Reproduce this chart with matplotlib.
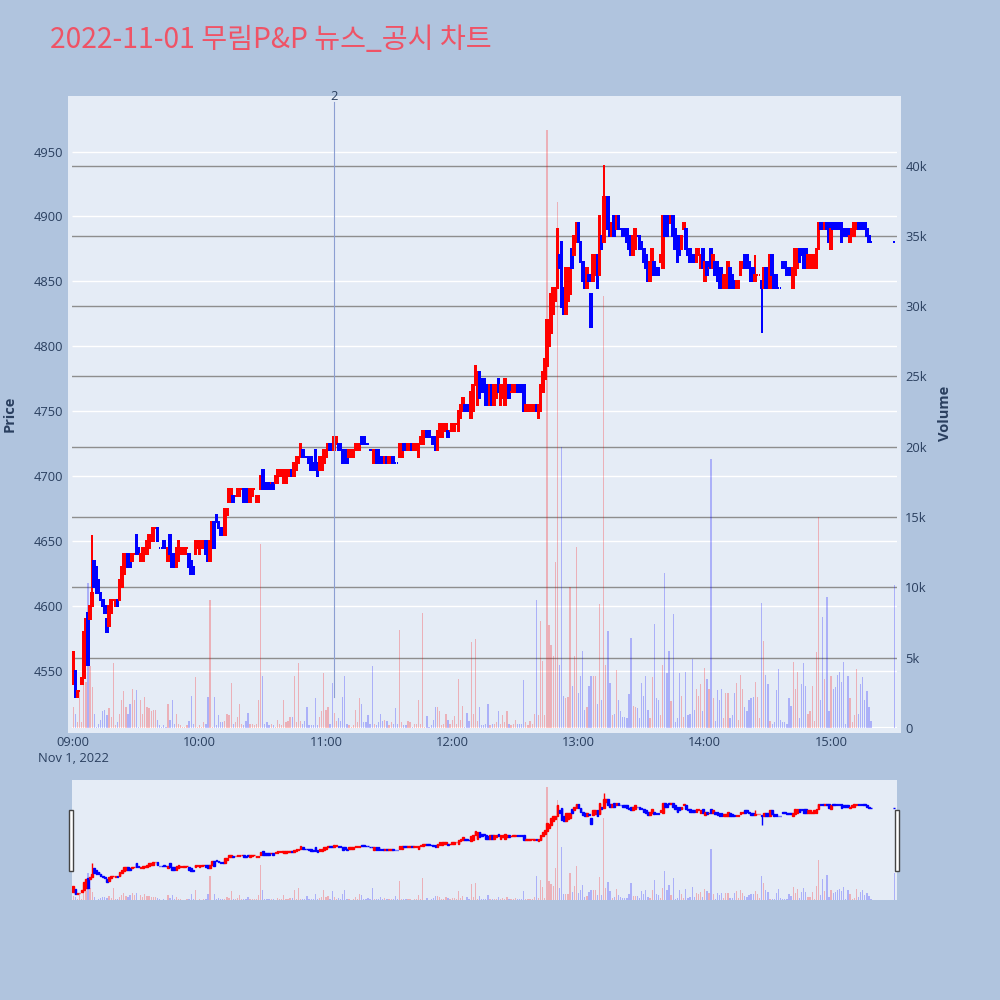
import matplotlib
matplotlib.use('Agg')
import matplotlib.pyplot as plt
import matplotlib.transforms as mtransforms
from matplotlib.patches import Rectangle

# ---------------- data (minute candles, 2022-11-01) ----------------
minutes = list(range(380)) + [390]          # minutes after 09:00
opens = [
4540,4550,4530,4535,4540,4545,4555,4595,4590,4600,
4635,4630,4620,4610,4605,4600,4590,4585,4595,4605,
4600,4605,4605,4615,4625,4630,4640,4635,4635,4640,
4655,4645,4635,4635,4640,4640,4645,4650,4650,4660,
4660,4645,4645,4650,4645,4635,4655,4640,4640,4630,
4635,4640,4640,4640,4645,4640,4635,4630,4640,4645,
4640,4645,4650,4650,4650,4635,4650,4665,4670,4665,
4660,4660,4655,4670,4680,4680,4685,4685,4685,4685,
4690,4690,4685,4690,4680,4685,4690,4680,4680,4690,
4705,4695,4695,4695,4695,4695,4695,4695,4700,4700,
4695,4695,4700,4700,4705,4700,4705,4710,4715,4720,
4715,4715,4715,4715,4710,4720,4710,4705,4705,4710,
4715,4720,4725,4725,4720,4725,4725,4725,4720,4720,
4715,4715,4715,4715,4720,4720,4720,4730,4730,4725,
4725,4720,4720,4710,4720,4720,4715,4715,4710,4715,
4710,4710,4715,4710,4710,4715,4715,4725,4725,4720,
4720,4725,4720,4720,4715,4725,4725,4730,4735,4735,
4730,4730,4730,4720,4730,4730,4735,4735,4735,4735,
4735,4735,4740,4735,4745,4750,4755,4755,4750,4745,
4750,4770,4755,4780,4775,4775,4770,4765,4755,4770,
4755,4760,4775,4755,4760,4755,4760,4770,4765,4765,
4765,4770,4770,4770,4770,4750,4750,4750,4755,4750,
4755,4745,4750,4765,4775,4785,4800,4810,4825,4835,
4845,4870,4880,4845,4825,4835,4840,4875,4870,4880,
4895,4880,4865,4860,4845,4855,4840,4850,4855,4870,
4855,4885,4880,4905,4915,4895,4885,4900,4890,4900,
4890,4890,4890,4890,4880,4885,4870,4875,4885,4885,
4880,4875,4870,4865,4850,4860,4865,4860,4860,4865,
4860,4900,4895,4900,4895,4900,4890,4885,4885,4875,
4890,4890,4875,4875,4870,4870,4865,4870,4860,4875,
4850,4865,4860,4875,4860,4865,4865,4860,4860,4845,
4845,4845,4860,4855,4850,4845,4845,4855,4860,4870,
4870,4865,4860,4860,4850,4855,4855,4850,4845,4860,
4860,4845,4870,4855,4855,4845,4845,4865,4865,4860,
4860,4860,4845,4855,4860,4875,4875,4875,4875,4860,
4860,4860,4860,4860,4875,4895,4895,4890,4895,4895,
4875,4895,4895,4895,4895,4895,4890,4890,4890,4880,
4885,4885,4890,4895,4895,4895,4895,4890,4885,4880,
4880]
closes = [
4565,4530,4535,4535,4545,4580,4590,4555,4600,4610,
4615,4610,4610,4605,4600,4595,4580,4600,4605,4605,
4605,4600,4620,4630,4640,4640,4630,4630,4640,4640,
4640,4640,4640,4645,4645,4650,4655,4655,4660,4660,
4650,4645,4645,4645,4645,4645,4640,4630,4630,4645,
4650,4645,4645,4645,4645,4630,4625,4625,4650,4650,
4650,4650,4650,4640,4635,4650,4665,4645,4665,4660,
4655,4655,4675,4675,4690,4690,4680,4685,4690,4690,
4690,4680,4680,4685,4690,4690,4690,4685,4685,4700,
4690,4690,4690,4690,4695,4690,4700,4705,4705,4705,
4705,4705,4705,4705,4700,4710,4715,4715,4725,4715,
4715,4715,4710,4705,4705,4705,4700,4715,4715,4720,
4720,4725,4720,4720,4730,4730,4720,4720,4710,4715,
4710,4720,4720,4720,4725,4725,4725,4725,4725,4725,
4725,4720,4720,4720,4710,4710,4710,4710,4715,4710,
4715,4715,4710,4710,4710,4725,4725,4720,4720,4725,
4725,4720,4725,4725,4725,4730,4735,4735,4730,4730,
4730,4725,4720,4735,4740,4740,4740,4740,4730,4735,
4740,4740,4740,4750,4755,4760,4750,4750,4750,4765,
4770,4785,4780,4760,4765,4770,4755,4755,4770,4755,
4770,4770,4765,4770,4770,4775,4770,4760,4765,4770,
4770,4765,4765,4765,4750,4755,4755,4755,4755,4755,
4750,4755,4770,4780,4790,4820,4815,4840,4845,4845,
4890,4860,4830,4825,4860,4860,4860,4860,4885,4895,
4880,4865,4850,4845,4860,4850,4815,4870,4870,4845,
4900,4875,4915,4915,4890,4885,4895,4885,4900,4890,
4890,4885,4885,4880,4875,4870,4885,4890,4885,4875,
4875,4865,4860,4850,4865,4875,4855,4855,4855,4870,
4900,4885,4885,4895,4900,4885,4875,4865,4870,4885,
4895,4875,4870,4865,4865,4865,4875,4875,4870,4860,
4865,4855,4860,4860,4870,4855,4850,4845,4845,4855,
4855,4865,4845,4845,4845,4850,4850,4865,4865,4860,
4865,4860,4850,4850,4855,4855,4855,4845,4860,4845,
4845,4870,4855,4845,4845,4845,4845,4860,4860,4855,
4855,4855,4860,4875,4875,4865,4870,4860,4860,4870,
4870,4865,4870,4875,4895,4890,4890,4895,4890,4880,
4890,4890,4890,4890,4890,4880,4885,4885,4885,4885,
4890,4895,4895,4890,4890,4890,4890,4885,4880,4880,
4880]
wick_high = {9: 4655, 252: 4940, 324: 4870}
wick_low = {327: 4810}
volume_k = [
1.5,1.0,0.45,2.7,0.4,4.6,3.3,10.3,4.4,2.9,
1.0,0.1,0.3,0.6,1.2,1.3,0.9,1.4,0.8,4.6,
0.2,0.45,1.0,2.0,2.6,1.5,1.0,1.7,2.8,2.0,
2.7,0.1,2.0,1.0,2.2,1.5,1.4,1.2,1.3,1.3,
0.6,0.2,0.1,0.2,0.1,1.7,0.6,2.0,0.3,1.0,
0.3,0.2,0.1,0.1,0.2,0.5,2.3,0.3,3.6,0.1,
0.2,0.1,0.4,0.3,2.2,9.1,0.1,2.2,0.2,0.9,
0.4,0.4,0.5,1.0,0.9,3.2,0.3,0.4,0.8,1.7,
0.3,0.2,0.5,1.1,0.3,0.3,0.2,0.3,2.0,13.1,
3.7,0.3,0.4,0.2,0.3,0.2,0.1,0.6,0.3,0.2,
2.0,0.45,0.5,0.8,0.8,3.7,0.45,4.6,0.5,0.3,
0.5,1.5,0.2,0.2,0.2,2.1,0.2,0.8,1.2,3.9,
1.3,1.5,0.3,3.2,1.1,0.5,0.7,0.5,2.2,3.7,
0.3,0.2,0.1,0.2,1.3,0.4,2.1,1.7,0.4,0.4,
0.9,0.3,4.4,0.3,0.2,0.4,1.0,0.5,0.6,0.5,
0.2,0.4,0.3,1.4,0.3,7.0,0.4,0.2,0.2,0.5,
0.4,0.1,0.3,0.3,2.0,0.3,8.2,0.1,0.85,0.1,
0.2,0.6,1.5,1.5,1.2,0.2,0.3,1.0,0.6,0.3,
0.6,0.85,0.3,3.5,0.6,1.6,0.1,1.1,0.5,6.1,
1.0,6.3,0.5,1.5,0.2,0.2,0.3,1.7,0.2,0.3,
0.3,0.4,1.2,0.3,0.9,0.4,1.2,0.3,0.2,0.3,
0.6,0.3,0.3,0.3,3.4,0.4,0.2,0.5,0.3,1.0,
9.1,0.9,7.6,4.8,0.9,42.5,7.3,5.9,5.1,11.8,
37.4,4.5,20.0,2.3,2.1,2.2,10.0,3.0,5.1,12.9,
2.5,3.7,5.5,1.3,1.5,3.0,3.7,3.7,3.7,1.7,
8.8,2.0,30.7,4.5,6.9,3.2,0.9,1.0,4.1,2.0,
1.2,0.8,0.8,0.7,2.4,6.4,1.6,1.5,1.4,0.7,
3.2,2.3,3.7,1.3,0.7,3.6,7.4,2.1,2.0,0.9,
4.5,11.0,3.9,5.5,1.9,8.1,0.4,0.7,3.9,2.3,
0.8,4.0,0.9,1.0,4.9,1.3,2.8,2.3,3.1,1.2,
4.3,3.5,2.8,19.1,2.1,0.5,2.7,2.0,2.8,0.7,
2.5,2.5,0.7,0.9,2.5,3.2,0.6,3.8,2.8,1.5,
1.2,2.0,2.1,2.2,3.3,2.2,0.7,8.9,6.2,3.8,
3.1,0.5,0.25,0.4,2.7,4.2,0.6,0.45,0.4,0.3,
2.1,1.6,4.7,2.8,4.0,0.7,3.1,4.6,3.0,1.0,
1.2,3.0,0.5,5.4,15.0,2.0,7.9,3.5,9.3,1.2,
3.7,2.8,2.9,3.8,4.0,3.3,4.7,0.25,3.7,2.1,
0.4,0.9,4.2,1.0,3.1,3.6,2.0,2.6,1.5,0.5,
10.2]
news_minutes = [124]
news_labels = ['2']
hour_ticks = [0, 60, 120, 180, 240, 300, 360]
hour_labels = ['09:00\nNov 1, 2022', '10:00', '11:00', '12:00', '13:00', '14:00', '15:00']
price_ticks = [4550, 4600, 4650, 4700, 4750, 4800, 4850, 4900, 4950]
vol_ticks_k = [0, 5, 10, 15, 20, 25, 30, 35, 40]
title = '2022-11-01 무림P&P 뉴스_공시 차트'

# ---------------- derived ----------------
highs = [max(o, c) for o, c in zip(opens, closes)]
lows = [min(o, c) for o, c in zip(opens, closes)]
for i, v in wick_high.items():
    highs[i] = v
for i, v in wick_low.items():
    lows[i] = v
volume = [v * 1000 for v in volume_k]

# plotly-style direction (doji follows change from previous close)
inc = []
prev_inc, prev_c = True, None
for o, c in zip(opens, closes):
    if c > o:
        d = True
    elif c < o:
        d = False
    elif prev_c is not None and c != prev_c:
        d = c > prev_c
    else:
        d = prev_inc
    inc.append(d)
    prev_inc, prev_c = d, c

RED, BLUE = '#FF0000', '#0000FF'
cc = [RED if d else BLUE for d in inc]
vc = [(1, 0, 0, 0.25) if d else (0, 0, 1, 0.25) for d in inc]

PAPER = '#B0C4DE'
PLOT = '#E5ECF6'
FONT = '#2a3f5f'
plt.rcParams['font.family'] = ['Open Sans', 'DejaVu Sans']

fig = plt.figure(figsize=(10, 10), dpi=100, facecolor=PAPER)
fig.patches.append(Rectangle((0.068, 0.267), 0.833, 0.637, transform=fig.transFigure,
                             facecolor=PLOT, edgecolor='none', zorder=-1))

rect = [0.072, 0.272, 0.825, 0.632]
axv = fig.add_axes(rect)
axv.set_facecolor(PLOT)
axp = fig.add_axes(rect, sharex=axv)
axp.patch.set_alpha(0)

XLIM = (-0.6, 391.3)
PLIM = (4506.5, 4992.7)
VLIM = (0, 44950)

# grids (drawn under data)
axv.set_ylim(*VLIM)
axp.set_ylim(*PLIM)
axv.set_xlim(*XLIM)
ptrans = mtransforms.blended_transform_factory(axv.transAxes, axp.transData)
axv.hlines(price_ticks, 0, 1, transform=ptrans, colors='white', lw=1.0, zorder=0.5)
axv.set_yticks([v * 1000 for v in vol_ticks_k])
axv.set_yticklabels(['0'] + [f'{v}k' for v in vol_ticks_k[1:]])
axv.grid(axis='y', color='#8e8e8e', lw=1.0, zorder=0.6)
axv.grid(axis='x', visible=False)
axv.set_axisbelow(True)
axv.axhline(0, color='white', lw=1.6, zorder=0.7)

# volume bars
axv.bar(minutes, volume, width=0.6, color=vc, edgecolor='none', zorder=2)

# candles
bh = [c - o for o, c in zip(opens, closes)]
axp.vlines(minutes, lows, highs, colors=cc, lw=1.44, zorder=3)
axp.bar(minutes, bh, bottom=opens, width=0.8, color=cc, edgecolor=cc, linewidth=1.44, zorder=4)

# news marker
ntrans = mtransforms.blended_transform_factory(axp.transData, axp.transAxes)
for m, lab in zip(news_minutes, news_labels):
    axp.plot([m, m], [0.049, 0.99], transform=ntrans, color='#8c9fd2', lw=0.8, zorder=5)
    axp.text(m, 1.0, lab, transform=ntrans, ha='center', va='center', fontsize=9.3, color=FONT)

# axes styling
axp.set_yticks(price_ticks)
axp.yaxis.tick_left()
axv.yaxis.tick_right()
for a in (axv, axp):
    for s in a.spines.values():
        s.set_visible(False)
axp.tick_params(axis='y', length=0, pad=6, labelsize=9.3, labelcolor=FONT)
axv.tick_params(axis='y', length=0, pad=6, labelsize=9.3, labelcolor=FONT)
axv.set_xticks(hour_ticks)
axv.set_xticklabels(hour_labels, linespacing=1.3)
axv.tick_params(axis='x', length=0, pad=6, labelsize=9.3, labelcolor=FONT)
axp.tick_params(axis='x', labelbottom=False, length=0)
axp.set_xlim(*XLIM)

# titles
fig.text(0.05, 0.960, title, fontsize=20.3, color='#EF5366', ha='left', va='center',
         family=['Noto Sans CJK KR', 'DejaVu Sans'])
fig.text(0.010, 0.586, 'Price', rotation=90, fontsize=10.5, fontweight='bold',
         color=FONT, ha='center', va='center')
fig.text(0.945, 0.587, 'Volume', rotation=90, fontsize=10.5, fontweight='bold',
         color=FONT, ha='center', va='center')

# ---------------- range slider ----------------
srect = [0.072, 0.100, 0.825, 0.120]
asv = fig.add_axes(srect)
asv.set_facecolor(PLOT)
asp = fig.add_axes(srect, sharex=asv)
asp.patch.set_alpha(0)
for a in (asv, asp):
    a.set_xticks([]); a.set_yticks([])
    for s in a.spines.values():
        s.set_visible(False)
asv.set_xlim(*XLIM)
asv.set_ylim(*VLIM)
asp.set_ylim(*PLIM)
asv.bar(minutes, volume, width=0.6, color=vc, edgecolor='none')
asp.vlines(minutes, lows, highs, colors=cc, lw=1.0)
asp.bar(minutes, bh, bottom=opens, width=0.8, color=cc, edgecolor=cc, linewidth=1.0)

for hx in (0.0693, 0.8950):
    fig.patches.append(Rectangle((hx, 0.129), 0.004, 0.061, transform=fig.transFigure,
                                 facecolor='white', edgecolor='#444444', lw=1.0, zorder=5))

fig.savefig('out.png', dpi=100, facecolor=PAPER)
